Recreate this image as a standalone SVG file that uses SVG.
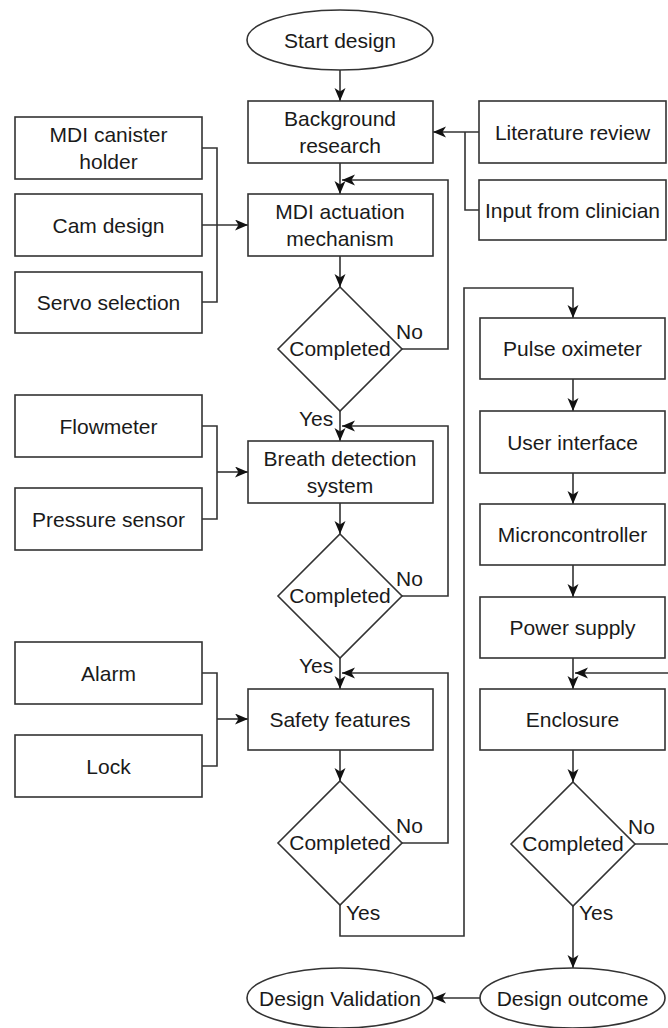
<svg xmlns="http://www.w3.org/2000/svg" width="668" height="1028" viewBox="0 0 668 1028">
  <style>
    .box { fill: #ffffff; stroke: #333333; stroke-width: 1.6; }
    .lbl { font-family: "Liberation Sans", Arial, sans-serif; font-size: 21px; fill: #1a1a1a; text-anchor: middle; }
    .tag { font-family: "Liberation Sans", Arial, sans-serif; font-size: 21px; fill: #1a1a1a; }
    .edge { fill: none; stroke: #333333; stroke-width: 1.6; }
    .arr { marker-end: url(#head); }
  </style>
  <defs>
    <marker id="head" markerUnits="userSpaceOnUse" markerWidth="14" markerHeight="12" refX="13" refY="5.5" orient="auto">
      <path d="M0,0 L13,5.5 L0,11 L3.5,5.5 Z" fill="#111111"/>
    </marker>
  </defs>
  <rect width="668" height="1028" fill="#ffffff"/>

  <!-- connectors -->
  <g id="connectors">
    <path class="edge arr" d="M340,70 V101"/>
    <path class="edge arr" d="M479,132 H433"/>
    <path class="edge" d="M479,210 H465 V132"/>
    <path class="edge arr" d="M340,163 V194"/>
    <path class="edge arr" d="M202,225 H248"/>
    <path class="edge" d="M202,148 H217 V302 H202"/>
    <path class="edge arr" d="M340,256 V287"/>
    <path class="edge arr" d="M402,349 H448 V180 H342"/>
    <path class="edge arr" d="M340,411 V441"/>
    <path class="edge arr" d="M217,472 H248"/>
    <path class="edge" d="M202,426 H217 V519 H202"/>
    <path class="edge arr" d="M340,503 V534"/>
    <path class="edge arr" d="M402,596 H448 V426 H342"/>
    <path class="edge arr" d="M340,658 V689"/>
    <path class="edge arr" d="M217,719 H248"/>
    <path class="edge" d="M202,673 H217 V766 H202"/>
    <path class="edge arr" d="M340,750 V781"/>
    <path class="edge arr" d="M402,843 H448 V673 H342"/>
    <path class="edge arr" d="M340,905 V936 H464 V288 H573 V318"/>
    <path class="edge arr" d="M573,379 V411"/>
    <path class="edge arr" d="M573,473 V504"/>
    <path class="edge arr" d="M573,565 V597"/>
    <path class="edge arr" d="M573,658 V689"/>
    <path class="edge arr" d="M635,844 H670 V673 H575"/>
    <path class="edge arr" d="M573,750 V782"/>
    <path class="edge arr" d="M573,906 V968"/>
    <path class="edge arr" d="M480,998 H433"/>
    <text class="tag" x="396" y="339">No</text>
    <text class="tag" x="299" y="426">Yes</text>
    <text class="tag" x="396" y="586">No</text>
    <text class="tag" x="299" y="673">Yes</text>
    <text class="tag" x="396" y="833">No</text>
    <text class="tag" x="346" y="920">Yes</text>
    <text class="tag" x="628" y="834">No</text>
    <text class="tag" x="579" y="920">Yes</text>
  </g>

  <!-- main column -->
  <g id="start">
    <ellipse class="box" cx="340" cy="40" rx="93" ry="30"/>
    <text class="lbl" x="340" y="47.5">Start design</text>
  </g>
  <g id="background">
    <rect class="box" x="248" y="101" width="185" height="62"/>
    <text class="lbl" x="340" y="126">Background</text>
    <text class="lbl" x="340" y="153">research</text>
  </g>
  <g id="literature">
    <rect class="box" x="479" y="101" width="187" height="62"/>
    <text class="lbl" x="572.5" y="139.5">Literature review</text>
  </g>
  <g id="clinician">
    <rect class="box" x="479" y="180" width="187" height="60"/>
    <text class="lbl" x="572.5" y="217.5">Input from clinician</text>
  </g>
  <g id="actuation">
    <rect class="box" x="248" y="194" width="185" height="62"/>
    <text class="lbl" x="340" y="219">MDI actuation</text>
    <text class="lbl" x="340" y="246">mechanism</text>
  </g>
  <g id="canister">
    <rect class="box" x="15" y="117" width="187" height="62"/>
    <text class="lbl" x="108.5" y="142">MDI canister</text>
    <text class="lbl" x="108.5" y="169">holder</text>
  </g>
  <g id="cam">
    <rect class="box" x="15" y="194" width="187" height="62"/>
    <text class="lbl" x="108.5" y="232.5">Cam design</text>
  </g>
  <g id="servo">
    <rect class="box" x="15" y="272" width="187" height="61"/>
    <text class="lbl" x="108.5" y="310">Servo selection</text>
  </g>
  <g id="check1">
    <polygon class="box" points="340,287 402,349 340,411 278,349"/>
    <text class="lbl" x="340" y="356">Completed</text>
  </g>
  <g id="breath">
    <rect class="box" x="248" y="441" width="185" height="62"/>
    <text class="lbl" x="340" y="466">Breath detection</text>
    <text class="lbl" x="340" y="493">system</text>
  </g>
  <g id="flowmeter">
    <rect class="box" x="15" y="395" width="187" height="62"/>
    <text class="lbl" x="108.5" y="433.5">Flowmeter</text>
  </g>
  <g id="pressure">
    <rect class="box" x="15" y="488" width="187" height="62"/>
    <text class="lbl" x="108.5" y="526.5">Pressure sensor</text>
  </g>
  <g id="check2">
    <polygon class="box" points="340,534 402,596 340,658 278,596"/>
    <text class="lbl" x="340" y="603">Completed</text>
  </g>
  <g id="safety">
    <rect class="box" x="248" y="689" width="185" height="61"/>
    <text class="lbl" x="340" y="727">Safety features</text>
  </g>
  <g id="alarm">
    <rect class="box" x="15" y="642" width="187" height="62"/>
    <text class="lbl" x="108.5" y="680.5">Alarm</text>
  </g>
  <g id="lock">
    <rect class="box" x="15" y="735" width="187" height="62"/>
    <text class="lbl" x="108.5" y="773.5">Lock</text>
  </g>
  <g id="check3">
    <polygon class="box" points="340,781 402,843 340,905 278,843"/>
    <text class="lbl" x="340" y="850">Completed</text>
  </g>

  <!-- right column -->
  <g id="oximeter">
    <rect class="box" x="480" y="318" width="185" height="61"/>
    <text class="lbl" x="572.5" y="356">Pulse oximeter</text>
  </g>
  <g id="interface">
    <rect class="box" x="480" y="411" width="185" height="62"/>
    <text class="lbl" x="572.5" y="449.5">User interface</text>
  </g>
  <g id="controller">
    <rect class="box" x="480" y="504" width="185" height="61"/>
    <text class="lbl" x="572.5" y="542">Microncontroller</text>
  </g>
  <g id="power">
    <rect class="box" x="480" y="597" width="185" height="61"/>
    <text class="lbl" x="572.5" y="635">Power supply</text>
  </g>
  <g id="enclosure">
    <rect class="box" x="480" y="689" width="185" height="61"/>
    <text class="lbl" x="572.5" y="727">Enclosure</text>
  </g>
  <g id="check4">
    <polygon class="box" points="573,782 635,844 573,906 511,844"/>
    <text class="lbl" x="573" y="851">Completed</text>
  </g>
  <g id="outcome">
    <ellipse class="box" cx="572.5" cy="998" rx="92.5" ry="30"/>
    <text class="lbl" x="572.5" y="1005.5">Design outcome</text>
  </g>
  <g id="validation">
    <ellipse class="box" cx="340" cy="998" rx="93" ry="30"/>
    <text class="lbl" x="340" y="1005.5">Design Validation</text>
  </g>
</svg>
